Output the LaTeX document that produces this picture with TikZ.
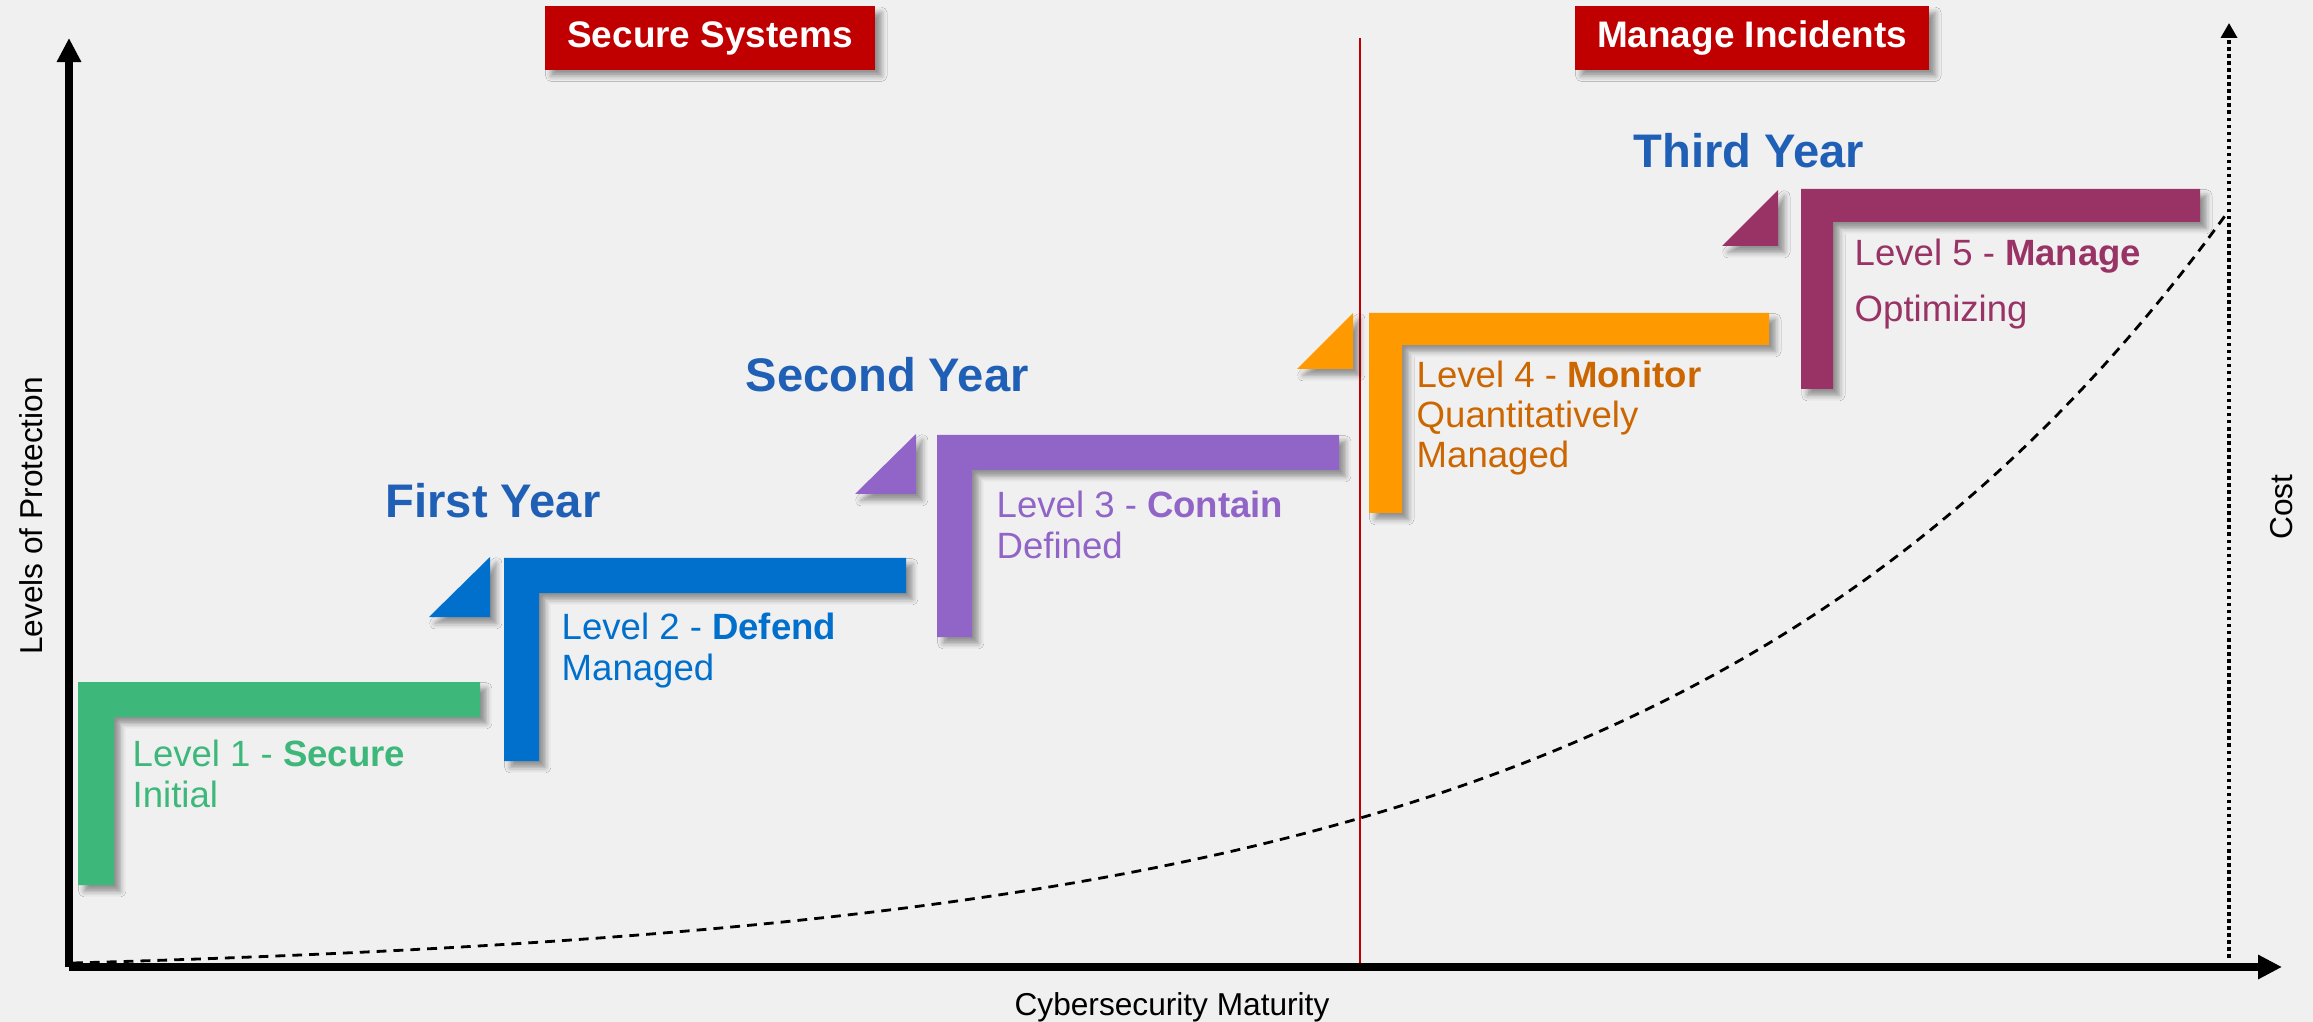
\documentclass[tikz,border=0pt]{standalone}
\usepackage{fontspec}
\setmainfont{Liberation Sans}
\usetikzlibrary{positioning, arrows.meta, shadows.blur}
\definecolor{bgcol}{HTML}{F0F0F0}
\definecolor{boxred}{HTML}{C00000}
\definecolor{lvlgreen}{HTML}{3DB87A}
\definecolor{lvlblue}{HTML}{0070CC}
\definecolor{lvlpurple}{HTML}{9164C8}
\definecolor{lvlorange}{HTML}{FF9900}
\definecolor{lvlorangetxt}{HTML}{CC6600}
\definecolor{lvlmaroon}{HTML}{993366}
\definecolor{yearblue}{HTML}{1F5FB5}

\begin{document}
\begin{tikzpicture}[
		x=0.01cm, y=-0.01cm,
		axis/.style={line width=2.2pt, -{Triangle[length=0.24cm, width=0.23cm]}},
		softshadow/.style={blur shadow={shadow xshift=1.8pt, shadow yshift=-1.8pt, shadow blur radius=1.6pt, shadow opacity=40}},
		bar/.style={fill=#1, softshadow},
		banner/.style={fill=boxred, text=white, font=\fontsize{10.5}{12}\selectfont\bfseries, minimum width=3.3cm, minimum height=0.63cm, inner sep=0pt, softshadow},
		year/.style={anchor=base west, inner sep=0pt, text=yearblue, font=\fontsize{13.4}{16}\selectfont\bfseries},
		lvl/.style={anchor=base west, inner sep=0pt, align=left, text=#1, font=\fontsize{10.4}{11.4}\selectfont},
		axislabel/.style={anchor=base, inner sep=0pt, font=\fontsize{9}{10}\selectfont}
		]
		\useasboundingbox (0,0) rectangle (2313,1022);
		\fill[bgcol] (0,0) rectangle (2313,1022);
		
		% Axes and cost curve
		\coordinate (o) at (69,967);
		\coordinate (ytop) at (69,38);
		\coordinate (xend) at (2282,967);
		\coordinate (split bottom) at (1360,967);
		\coordinate (split top) at (1360,38);
		\coordinate (cost bottom) at (2229,958);
		\coordinate (cost top) at (2229,23);
		
		\draw[boxred, line width=0.7pt] (split bottom) -- (split top);
		\draw[line width=0.8pt, dash pattern=on 2.8pt off 2pt] plot[domain=73:2227, samples=90, smooth] (\x, {963 - 15.84*(exp(0.0018*(\x-73))-1)});
		\draw[line width=1pt, densely dotted, -{Triangle[length=0.15cm, width=0.16cm]}] (cost bottom) -- (cost top);
		\draw[axis] (o) -- (ytop);
		\draw[axis] (o) -- (xend);
		
		\node[axislabel, rotate=90] (protection) at (42,516) {Levels of Protection};
		\node[axislabel] (maturity) at (1172,1015) {Cybersecurity Maturity};
		\node[axislabel, rotate=90] (cost) at (2292,507) {Cost};
		
		% Phases
		\node[banner] (secure) at (710,38) {Secure Systems};
		\node[banner, minimum width=3.54cm, right=6.98cm of secure] (incidents) {Manage Incidents};
		
		% Steps
		\fill[bar=lvlgreen] (78,682) -- (480,682) -- (480,717) -- (114,717) -- (114,885) -- (78,885) -- cycle;
		\fill[bar=lvlblue] (504,558) -- (906,558) -- (906,593) -- (539,593) -- (539,761) -- (504,761) -- cycle;
		\fill[bar=lvlpurple] (937,435) -- (1339,435) -- (1339,470) -- (972,470) -- (972,637) -- (937,637) -- cycle;
		\fill[bar=lvlorange] (1369,313) -- (1769,313) -- (1769,345) -- (1402,345) -- (1402,513) -- (1369,513) -- cycle;
		\fill[bar=lvlmaroon] (1801,189) -- (2200,189) -- (2200,222) -- (1833,222) -- (1833,389) -- (1801,389) -- cycle;
		
		\fill[bar=lvlblue] (490,557) -- (490,617) -- (429,617) -- cycle;
		\fill[bar=lvlpurple] (916,434) -- (916,494) -- (855,494) -- cycle;
		\fill[bar=lvlorange] (1353,313) -- (1353,369) -- (1297,369) -- cycle;
		\fill[bar=lvlmaroon] (1778,190) -- (1778,246) -- (1722,246) -- cycle;
		
		\node[year] (first) at (385,518) {First Year};
		\node[year] (second) at (745,392) {Second Year};
		\node[year] (third) at (1633,168) {Third Year};
		
		% base of a multi-line node is its last line
		\node[lvl=lvlgreen] (level1) at (132,807) {Level 1 - \textbf{Secure}\\Initial};
		\node[lvl=lvlblue] (level2) at (561,680) {Level 2 - \textbf{Defend}\\Managed};
		\node[lvl=lvlpurple] (level3) at (996,558) {Level 3 - \textbf{Contain}\\Defined};
		\node[lvl=lvlorangetxt] (level4) at (1416,468) {Level 4 - \textbf{Monitor}\\Quantitatively\\Managed};
		\node[lvl=lvlmaroon] (level5) at (1854,322) {Level 5 - \textbf{Manage}\\[4.8pt]Optimizing};
		
	\end{tikzpicture}
\end{document}
